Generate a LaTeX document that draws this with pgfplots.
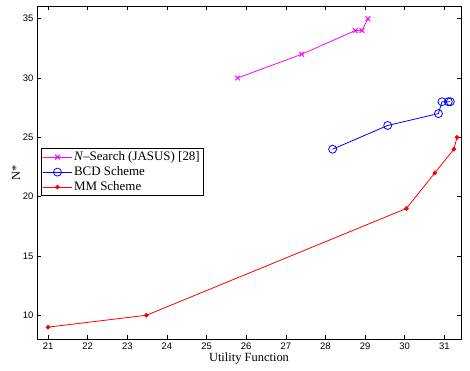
\documentclass[border=0pt]{standalone}
\usepackage{fontspec}
\setmainfont{Liberation Serif}
\newfontfamily\helv{Liberation Sans}
\usepackage{pgfplots}
\pgfplotsset{compat=1.18}
\definecolor{mag}{rgb}{1,0,1}
\begin{document}
\begin{tikzpicture}[x=1bp,y=1bp]
\begin{axis}[
  at={(0,0)}, anchor=south west,
  scale only axis,
  width=424bp, height=333bp,
  xmin=20.72, xmax=31.42,
  ymin=8, ymax=36.07,
  xtick={21,22,...,31},
  ytick={10,15,20,25,30,35},
  tick align=inside,
  major tick length=4bp,
  tick style={black, line width=0.5bp},
  axis line style={line width=0.9bp},
  /pgf/number format/assume math mode=true,
  ticklabel style={font=\helv\fontsize{9.5}{11}\selectfont},
  xlabel={Utility Function},
  ylabel={N*},
  label style={font=\fontsize{12.5}{14}\selectfont},
  xlabel style={yshift=3bp},
  ylabel style={yshift=-4bp},
  legend style={at={(0.0094,0.5736)}, anchor=north west, draw=black, line width=0.8bp,
    font=\fontsize{13}{15}\selectfont, inner sep=1.5bp, row sep=0.5bp,
    legend cell align=left},
  legend image code/.code={
    \draw[mark repeat=2,mark phase=2] plot coordinates {(0cm,0cm) (0.5cm,0cm) (1cm,0cm)};
  },
]
\addplot[color=mag, line width=0.8bp, mark=x, mark size=3.3bp, mark options={line width=1bp}]
  coordinates {(25.78,30) (27.4,32) (28.75,34) (28.92,34) (29.07,35)};
\addlegendentry{\textit{N}--Search (JASUS) [28]}
\addplot[color=blue, line width=0.8bp, mark=o, mark size=4bp]
  coordinates {(28.18,24) (29.57,26) (30.85,27) (30.94,28) (31.1,28) (31.15,28)};
\addlegendentry{BCD Scheme}
\addplot[color=red, line width=0.8bp, mark=*, mark size=1.9bp]
  coordinates {(21,9) (23.48,10) (30.04,19) (30.76,22) (31.24,24) (31.32,25)};
\addlegendentry{MM Scheme}
\end{axis}
\pgfresetboundingbox
\path (-37bp,-32bp) rectangle (433bp,339bp);
\end{tikzpicture}
\end{document}
